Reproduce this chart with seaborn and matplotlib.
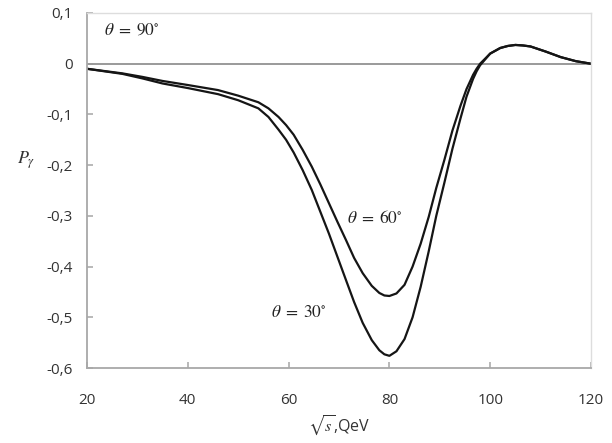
import numpy as np
import pandas as pd
import matplotlib
matplotlib.use("Agg")
import matplotlib.pyplot as plt
import seaborn as sns

# energy grid (sqrt(s), GeV)
sqrt_s = [20, 27, 31, 35, 40, 46, 50, 54, 56, 58, 59.5, 61, 62.8, 64.6, 66.3,
          68, 69.7, 71.4, 73, 74.7, 76.5, 78, 79, 80, 81.4, 83, 84.6, 86.2,
          87.8, 89.3, 90.9, 92.5, 94.1, 95.3, 96.6, 97.3, 98, 100, 102, 103.5,
          105, 106.5, 108, 111, 114, 117, 120]

p_theta30 = [-0.010, -0.020, -0.029, -0.039, -0.048, -0.060, -0.072, -0.088,
             -0.105, -0.130, -0.150, -0.175, -0.210, -0.249, -0.292, -0.335,
             -0.381, -0.427, -0.470, -0.511, -0.545, -0.565, -0.573, -0.576,
             -0.567, -0.543, -0.500, -0.440, -0.370, -0.300, -0.235, -0.168,
             -0.108, -0.065, -0.030, -0.015, -0.003, 0.020, 0.031, 0.035,
             0.037, 0.036, 0.034, 0.024, 0.013, 0.005, 0.0]

p_theta60 = [-0.010, -0.019, -0.026, -0.034, -0.042, -0.052, -0.063, -0.076,
             -0.088, -0.105, -0.121, -0.140, -0.170, -0.203, -0.238, -0.275,
             -0.312, -0.348, -0.383, -0.413, -0.438, -0.452, -0.457, -0.458,
             -0.453, -0.436, -0.400, -0.355, -0.302, -0.245, -0.190, -0.132,
             -0.083, -0.050, -0.022, -0.010, 0.000, 0.020, 0.031, 0.035,
             0.037, 0.036, 0.034, 0.024, 0.013, 0.005, 0.0]

p_theta90 = [0.0] * len(sqrt_s)

x_ticks = [20, 40, 60, 80, 100, 120]
y_ticks = [0.1, 0.0, -0.1, -0.2, -0.3, -0.4, -0.5, -0.6]
y_tick_labels = ["0,1", "0", "-0,1", "-0,2", "-0,3", "-0,4", "-0,5", "-0,6"]

labels = ["θ = 90°", "θ = 60°", "θ = 30°"]

sns.set_theme(style="white")
plt.rcParams["font.family"] = ["Open Sans", "DejaVu Sans"]
plt.rcParams["mathtext.fontset"] = "stix"

df = pd.DataFrame({
    "x": sqrt_s * 3,
    "y": p_theta90 + p_theta60 + p_theta30,
    "series": [labels[0]] * len(sqrt_s) + [labels[1]] * len(sqrt_s) + [labels[2]] * len(sqrt_s),
})

fig = plt.figure(figsize=(6.12, 4.43), dpi=100)
ax = fig.add_axes([87 / 612, (443 - 368) / 443, (591 - 87) / 612, (368 - 13) / 443])

sns.lineplot(data=df[df.series == labels[0]], x="x", y="y", color="#9a9a9a",
             linewidth=1.4, ax=ax, legend=False)
for lab in labels[1:]:
    sns.lineplot(data=df[df.series == lab], x="x", y="y", color="#151515",
                 linewidth=1.6, ax=ax, legend=False,
                 solid_joinstyle="round", solid_capstyle="round")

ax.set_xlim(20, 120)
ax.set_ylim(-0.6, 0.1)
ax.set_xticks(x_ticks)
ax.set_xticklabels([str(t) for t in x_ticks])
ax.set_yticks(y_ticks)
ax.set_yticklabels(y_tick_labels)

ax.tick_params(axis="x", direction="in", length=4, color="#b0b0b0", pad=18,
               labelsize=11, labelcolor="#333333")
ax.tick_params(axis="y", direction="in", length=4, color="#b0b0b0", pad=10,
               labelsize=11, labelcolor="#333333")
ax.tick_params(bottom=True, left=True)

for side in ["left", "bottom"]:
    ax.spines[side].set_color("#a8a8a8")
    ax.spines[side].set_linewidth(1.3)
for side in ["top", "right"]:
    ax.spines[side].set_color("#dddddd")
    ax.spines[side].set_linewidth(1.0)

ax.set_xlabel(r"$\sqrt{s}$,QeV", fontsize=11.5, color="#333333", labelpad=4)
ax.set_ylabel(r"$P_\gamma$", fontsize=13, rotation=0, color="#333333")
ax.yaxis.set_label_coords(-0.12, 0.555)

ax.text(23.3, 0.065, r"$\theta\;=\;90^{\circ}$", fontsize=12.5, ha="left", va="center", color="#222222")
ax.text(71.5, -0.305, r"$\theta\;=\;60^{\circ}$", fontsize=12.5, ha="left", va="center", color="#222222")
ax.text(56.5, -0.492, r"$\theta\;=\;30^{\circ}$", fontsize=12.5, ha="left", va="center", color="#222222")

fig.savefig("out.png", dpi=100)
